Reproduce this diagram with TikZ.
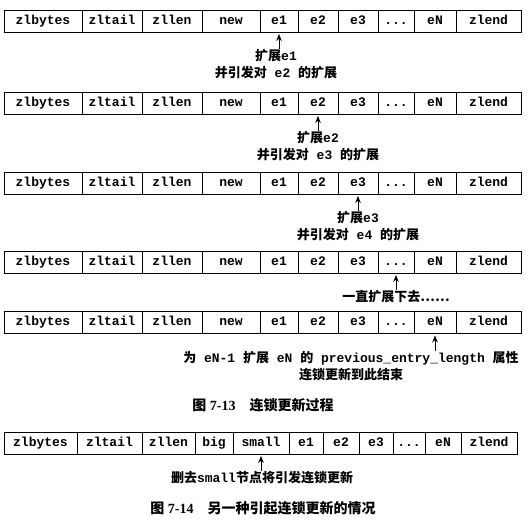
\documentclass[tikz,border=0pt]{standalone}
\usepackage{fontspec}
\setmainfont{Liberation Serif}
\setmonofont{Liberation Mono}
\newfontfamily\cjk{Noto Sans CJK SC}
\usetikzlibrary{arrows.meta}

\newcommand\celldots{.{}.{}.}

\tikzset{
  cellbox/.style={draw, line width=0.9pt, inner sep=0pt, minimum height=22pt,
    text height=9pt, text depth=2.5pt,
    font=\ttfamily\bfseries\fontsize{13}{15}\selectfont},
  pointer/.style={-{Stealth[length=7pt, width=5.5pt]}, line width=1pt, shorten >=1.5pt},
  note/.style={anchor=north, align=center, inner sep=0pt,
    font=\ttfamily\bfseries\fontsize{13}{17}\selectfont},
  caption/.style={font=\bfseries\fontsize{14}{16}\selectfont}
}

\begin{document}
\begin{tikzpicture}[x=1pt, y=-1pt]
  \useasboundingbox (0,0) rectangle (529,519);

  % Five copies of the ziplist, one per step of the cascade
  \foreach \r/\y in {1/21, 2/103, 3/183, 4/262, 5/322.5}{
    \foreach \nm/\txt/\xl/\xr in {zlbytes/zlbytes/4/82, zltail/zltail/82/142,
        zllen/zllen/142/202, new/new/202/260, e1/e1/260/298, e2/e2/298/338,
        e3/e3/338/378, dots/\celldots/378/414, eN/eN/414/456, zlend/zlend/456/521}{
      \node[cellbox, minimum width=\xr-\xl] (r\r-\nm) at ({(\xl+\xr)/2}, \y) {\txt};
    }
  }

  % Notes under each step
  \node[note] (step1) at (276, 49) {{\cjk 扩展}e1\\{\cjk 并引发对} e2 {\cjk 的扩展}};
  \node[note] (step2) at (318, 131) {{\cjk 扩展}e2\\{\cjk 并引发对} e3 {\cjk 的扩展}};
  \node[note] (step3) at (358, 211) {{\cjk 扩展}e3\\{\cjk 并引发对} e4 {\cjk 的扩展}};
  \node[note] (step4) at (396, 290) {{\cjk 一直扩展下去……}};
  \node[note] (step5) at (351, 351) {{\cjk 为} eN-1 {\cjk 扩展} eN {\cjk 的} previous\_entry\_length {\cjk 属性}\\{\cjk 连锁更新到此结束}};

  % Arrows up to the entry being expanded
  \draw[pointer] (step1.north -| r1-e1.south) -- (r1-e1.south);
  \draw[pointer] (step2.north -| r2-e2.south) -- (r2-e2.south);
  \draw[pointer] (step3.north -| r3-e3.south) -- (r3-e3.south);
  \draw[pointer] (step4.north -| r4-dots.south) -- (r4-dots.south);
  \draw[pointer] (step5.north -| r5-eN.south) -- (r5-eN.south);

  \node[caption] (cap13) at (263, 405) {{\cjk 图} 7-13\hspace{1em}{\cjk 连锁更新过程}};

  % Ziplist with a big and a small entry
  \foreach \nm/\txt/\xl/\xr in {zlbytes/zlbytes/4/77, zltail/zltail/77/142,
      zllen/zllen/142/195, big/big/195/233, small/small/233/289, e1/e1/289/323,
      e2/e2/323/359, e3/e3/359/393, dots/\celldots/393/425, eN/eN/425/461, zlend/zlend/461/517}{
    \node[cellbox, minimum width=\xr-\xl] (b-\nm) at ({(\xl+\xr)/2}, 443) {\txt};
  }
  \node[note] (delnote) at (262, 471) {{\cjk 删去}small{\cjk 节点将引发连锁更新}};
  \draw[pointer] (delnote.north -| b-small.south) -- (b-small.south);

  \node[caption] (cap14) at (263, 508) {{\cjk 图} 7-14\hspace{1em}{\cjk 另一种引起连锁更新的情况}};

\end{tikzpicture}
\end{document}
